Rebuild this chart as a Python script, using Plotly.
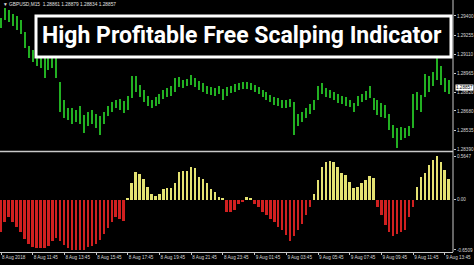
import plotly.graph_objects as go

# ---------------- data ----------------
bar_index = list(range(114))

high = [1.29385,1.29460,1.29445,1.29415,1.29400,1.29369,1.29278,1.29172,1.29142,1.29104,
        1.29097,1.29081,1.29089,1.29097,1.29081,1.28899,1.28763,1.28702,1.28702,1.28687,
        1.28718,1.28649,1.28672,1.28687,1.28657,1.28642,1.28672,1.28718,1.28748,1.28763,
        1.28771,1.28755,1.28793,1.28945,1.28945,1.28877,1.28839,1.28793,1.28763,1.28786,
        1.28809,1.28839,1.28854,1.28869,1.28930,1.28937,1.28915,1.28922,1.28952,1.28930,
        1.28907,1.28892,1.28869,1.28861,1.28854,1.28869,1.28846,1.28861,1.28869,1.28884,
        1.28892,1.28899,1.28899,1.28892,1.28877,1.28861,1.28839,1.28824,1.28801,1.28786,
        1.28778,1.28763,1.28763,1.28771,1.28748,1.28657,1.28672,1.28702,1.28733,1.28763,
        1.28869,1.28892,1.28854,1.28839,1.28824,1.28809,1.28793,1.28786,1.28763,1.28740,
        1.28793,1.28809,1.28831,1.28869,1.28778,1.28763,1.28740,1.28725,1.28657,1.28574,
        1.28551,1.28558,1.28551,1.28566,1.28809,1.28824,1.28801,1.28960,1.28945,1.28975,
        1.29097,1.29021,1.28930,1.28915]

low = [1.29309,1.29369,1.29354,1.29324,1.29294,1.29263,1.29157,1.29081,1.29051,1.29021,
       1.29006,1.28930,1.28990,1.29006,1.28930,1.28672,1.28627,1.28611,1.28581,1.28596,
       1.28581,1.28513,1.28566,1.28581,1.28551,1.28498,1.28581,1.28642,1.28672,1.28702,
       1.28687,1.28664,1.28687,1.28778,1.28824,1.28786,1.28748,1.28718,1.28702,1.28718,
       1.28733,1.28771,1.28786,1.28793,1.28824,1.28861,1.28854,1.28869,1.28877,1.28861,
       1.28839,1.28824,1.28809,1.28801,1.28793,1.28809,1.28763,1.28793,1.28816,1.28824,
       1.28839,1.28846,1.28846,1.28839,1.28824,1.28809,1.28786,1.28763,1.28748,1.28725,
       1.28718,1.28702,1.28702,1.28710,1.28498,1.28566,1.28596,1.28627,1.28657,1.28687,
       1.28763,1.28809,1.28786,1.28778,1.28763,1.28740,1.28733,1.28718,1.28710,1.28672,
       1.28718,1.28748,1.28763,1.28778,1.28687,1.28649,1.28634,1.28627,1.28536,1.28475,
       1.28399,1.28460,1.28475,1.28490,1.28551,1.28687,1.28672,1.28786,1.28824,1.28869,
       1.28915,1.28877,1.28824,1.28809]

histogram = [-0.42,-0.289,-0.224,-0.289,-0.355,-0.420,-0.507,-0.572,-0.616,-0.624,
             -0.624,-0.624,-0.594,-0.537,-0.494,-0.529,-0.581,-0.624,-0.646,-0.650,
             -0.6509,-0.650,-0.616,-0.594,-0.572,-0.520,-0.442,-0.363,-0.289,-0.224,
             -0.246,-0.276,0.01,0.220,0.363,0.333,0.263,0.167,0.080,0.046,
             0.072,0.133,0.146,0.146,0.220,0.363,0.376,0.372,0.420,0.407,
             0.298,0.263,0.211,0.133,0.102,0.037,0.01,-0.159,-0.159,-0.137,
             -0.050,-0.028,0.037,0.024,-0.050,-0.094,-0.159,-0.202,-0.246,-0.289,
             -0.355,-0.398,-0.463,-0.529,-0.476,-0.398,-0.311,-0.202,-0.094,0.080,
             0.254,0.428,0.494,0.507,0.494,0.428,0.350,0.320,0.233,0.146,
             0.159,0.220,0.254,0.307,0.276,-0.094,-0.202,-0.333,-0.420,-0.476,
             -0.442,-0.420,-0.389,-0.224,-0.10,0.167,0.298,0.341,0.450,0.515,
             0.5647,0.494,0.385,0.263]

price_ticks = [1.29400, 1.29255, 1.29110, 1.28965, 1.28820, 1.28680, 1.28535, 1.28390]
price_tick_text = ["1.29400", "1.29255", "1.29110", "1.28965", "1.28820", "1.28680", "1.28535", "1.28390"]
current_price = 1.28857
hist_ticks = [0.5647, 0.0, -0.6509]
hist_tick_text = ["0.5647", "0.00", "-0.6509"]

date_tick_index = [0, 8, 16, 24, 32, 40, 48, 56, 64, 72, 80, 88, 96, 104, 112]
date_tick_text = ["8 Aug 2018", "8 Aug 11:45", "8 Aug 13:45", "8 Aug 15:45", "8 Aug 17:45",
                  "8 Aug 19:45", "8 Aug 21:45", "8 Aug 23:45", "9 Aug 01:45", "9 Aug 03:45",
                  "9 Aug 05:45", "9 Aug 07:45", "9 Aug 09:45", "9 Aug 11:45", "9 Aug 13:45"]

header_text = "▼ GBPUSD,M15  1.28861 1.28879 1.28834 1.28857"
title_text = "High Profitable Free Scalping Indicator"

# ---------------- figure ----------------
W, H = 474, 265
PLOT_W = 453
GREEN = "#22b022"
RED = "#d02020"
YELLOW = "#e4e272"
AXC = "#c8c8c8"
SMALL = "Liberation Sans, Arial, sans-serif"

fig = go.Figure()

fig.add_trace(go.Bar(
    x=bar_index, y=[h - l for h, l in zip(high, low)], base=low,
    marker=dict(color=GREEN, line=dict(width=0)), width=0.3,
    xaxis="x", yaxis="y", showlegend=False, hoverinfo="skip"))

fig.add_trace(go.Bar(
    x=bar_index, y=histogram,
    marker=dict(color=[YELLOW if v > 0 else RED for v in histogram], line=dict(width=0)),
    width=0.5, xaxis="x2", yaxis="y2", showlegend=False, hoverinfo="skip"))

def py(px):
    return (H - px) / H

xr = [-0.252, -0.252 + PLOT_W / 3.964]

fig.update_layout(
    width=W, height=H,
    margin=dict(l=0, r=W - PLOT_W, t=0, b=0),
    paper_bgcolor="black", plot_bgcolor="black",
    bargap=0,
    xaxis=dict(domain=[0, 1], range=xr, showticklabels=False, showgrid=False,
               zeroline=False, anchor="y", fixedrange=True),
    yaxis=dict(domain=[py(151), 1], range=[1.28376, 1.29521], side="right",
               tickvals=price_ticks, ticktext=price_tick_text,
               tickfont=dict(size=4.6, color="#d8d8d8", family=SMALL),
               ticks="outside", ticklen=2, tickcolor=AXC,
               showgrid=False, zeroline=False, automargin=False, anchor="x"),
    xaxis2=dict(domain=[0, 1], range=xr, tickvals=date_tick_index, ticktext=date_tick_text,
                tickfont=dict(size=4.6, color="#d8d8d8", family=SMALL),
                ticklabelposition="outside right", tickangle=0,
                ticks="outside", ticklen=2, tickcolor=AXC,
                showline=True, linecolor=AXC, linewidth=1,
                showgrid=False, zeroline=False, anchor="y2", automargin=False),
    yaxis2=dict(domain=[py(252), py(153)], range=[-0.677, 0.605], side="right",
                tickvals=hist_ticks, ticktext=hist_tick_text,
                tickfont=dict(size=4.6, color="#d8d8d8", family=SMALL),
                ticks="outside", ticklen=2, tickcolor=AXC,
                showgrid=False, zeroline=False, automargin=False, anchor="x2"),
)

shapes = [
    dict(type="line", xref="paper", yref="paper", x0=0, x1=1, y0=py(151.5), y1=py(151.5),
         line=dict(color=AXC, width=1.5), layer="above"),
    dict(type="line", xref="paper", yref="paper", x0=1, x1=1, y0=py(252), y1=1,
         line=dict(color=AXC, width=1), layer="above"),
    dict(type="rect", xref="paper", yref="paper",
         x0=36 / PLOT_W, x1=451 / PLOT_W, y0=py(57), y1=py(16),
         fillcolor="black", line=dict(color="white", width=3), layer="above"),
]
fig.update_layout(shapes=shapes)

fig.add_annotation(x=242 / PLOT_W, y=py(36), xref="paper", yref="paper",
                   text="<b>" + title_text + "</b>", showarrow=False,
                   xanchor="center", yanchor="middle",
                   font=dict(size=23, color="white", family="Roboto, sans-serif"))

fig.add_annotation(x=1 / PLOT_W, y=py(5), xref="paper", yref="paper",
                   text=header_text, showarrow=False, xanchor="left", yanchor="middle",
                   font=dict(size=4.8, color="#e0e0e0", family=SMALL))

fig.add_annotation(x=1, y=current_price, xref="paper", yref="y",
                   text=str(current_price), showarrow=False, xanchor="left", yanchor="middle",
                   xshift=2, bgcolor="white", borderpad=0,
                   font=dict(size=4.6, color="black", family=SMALL))

fig.write_html("out.html")
